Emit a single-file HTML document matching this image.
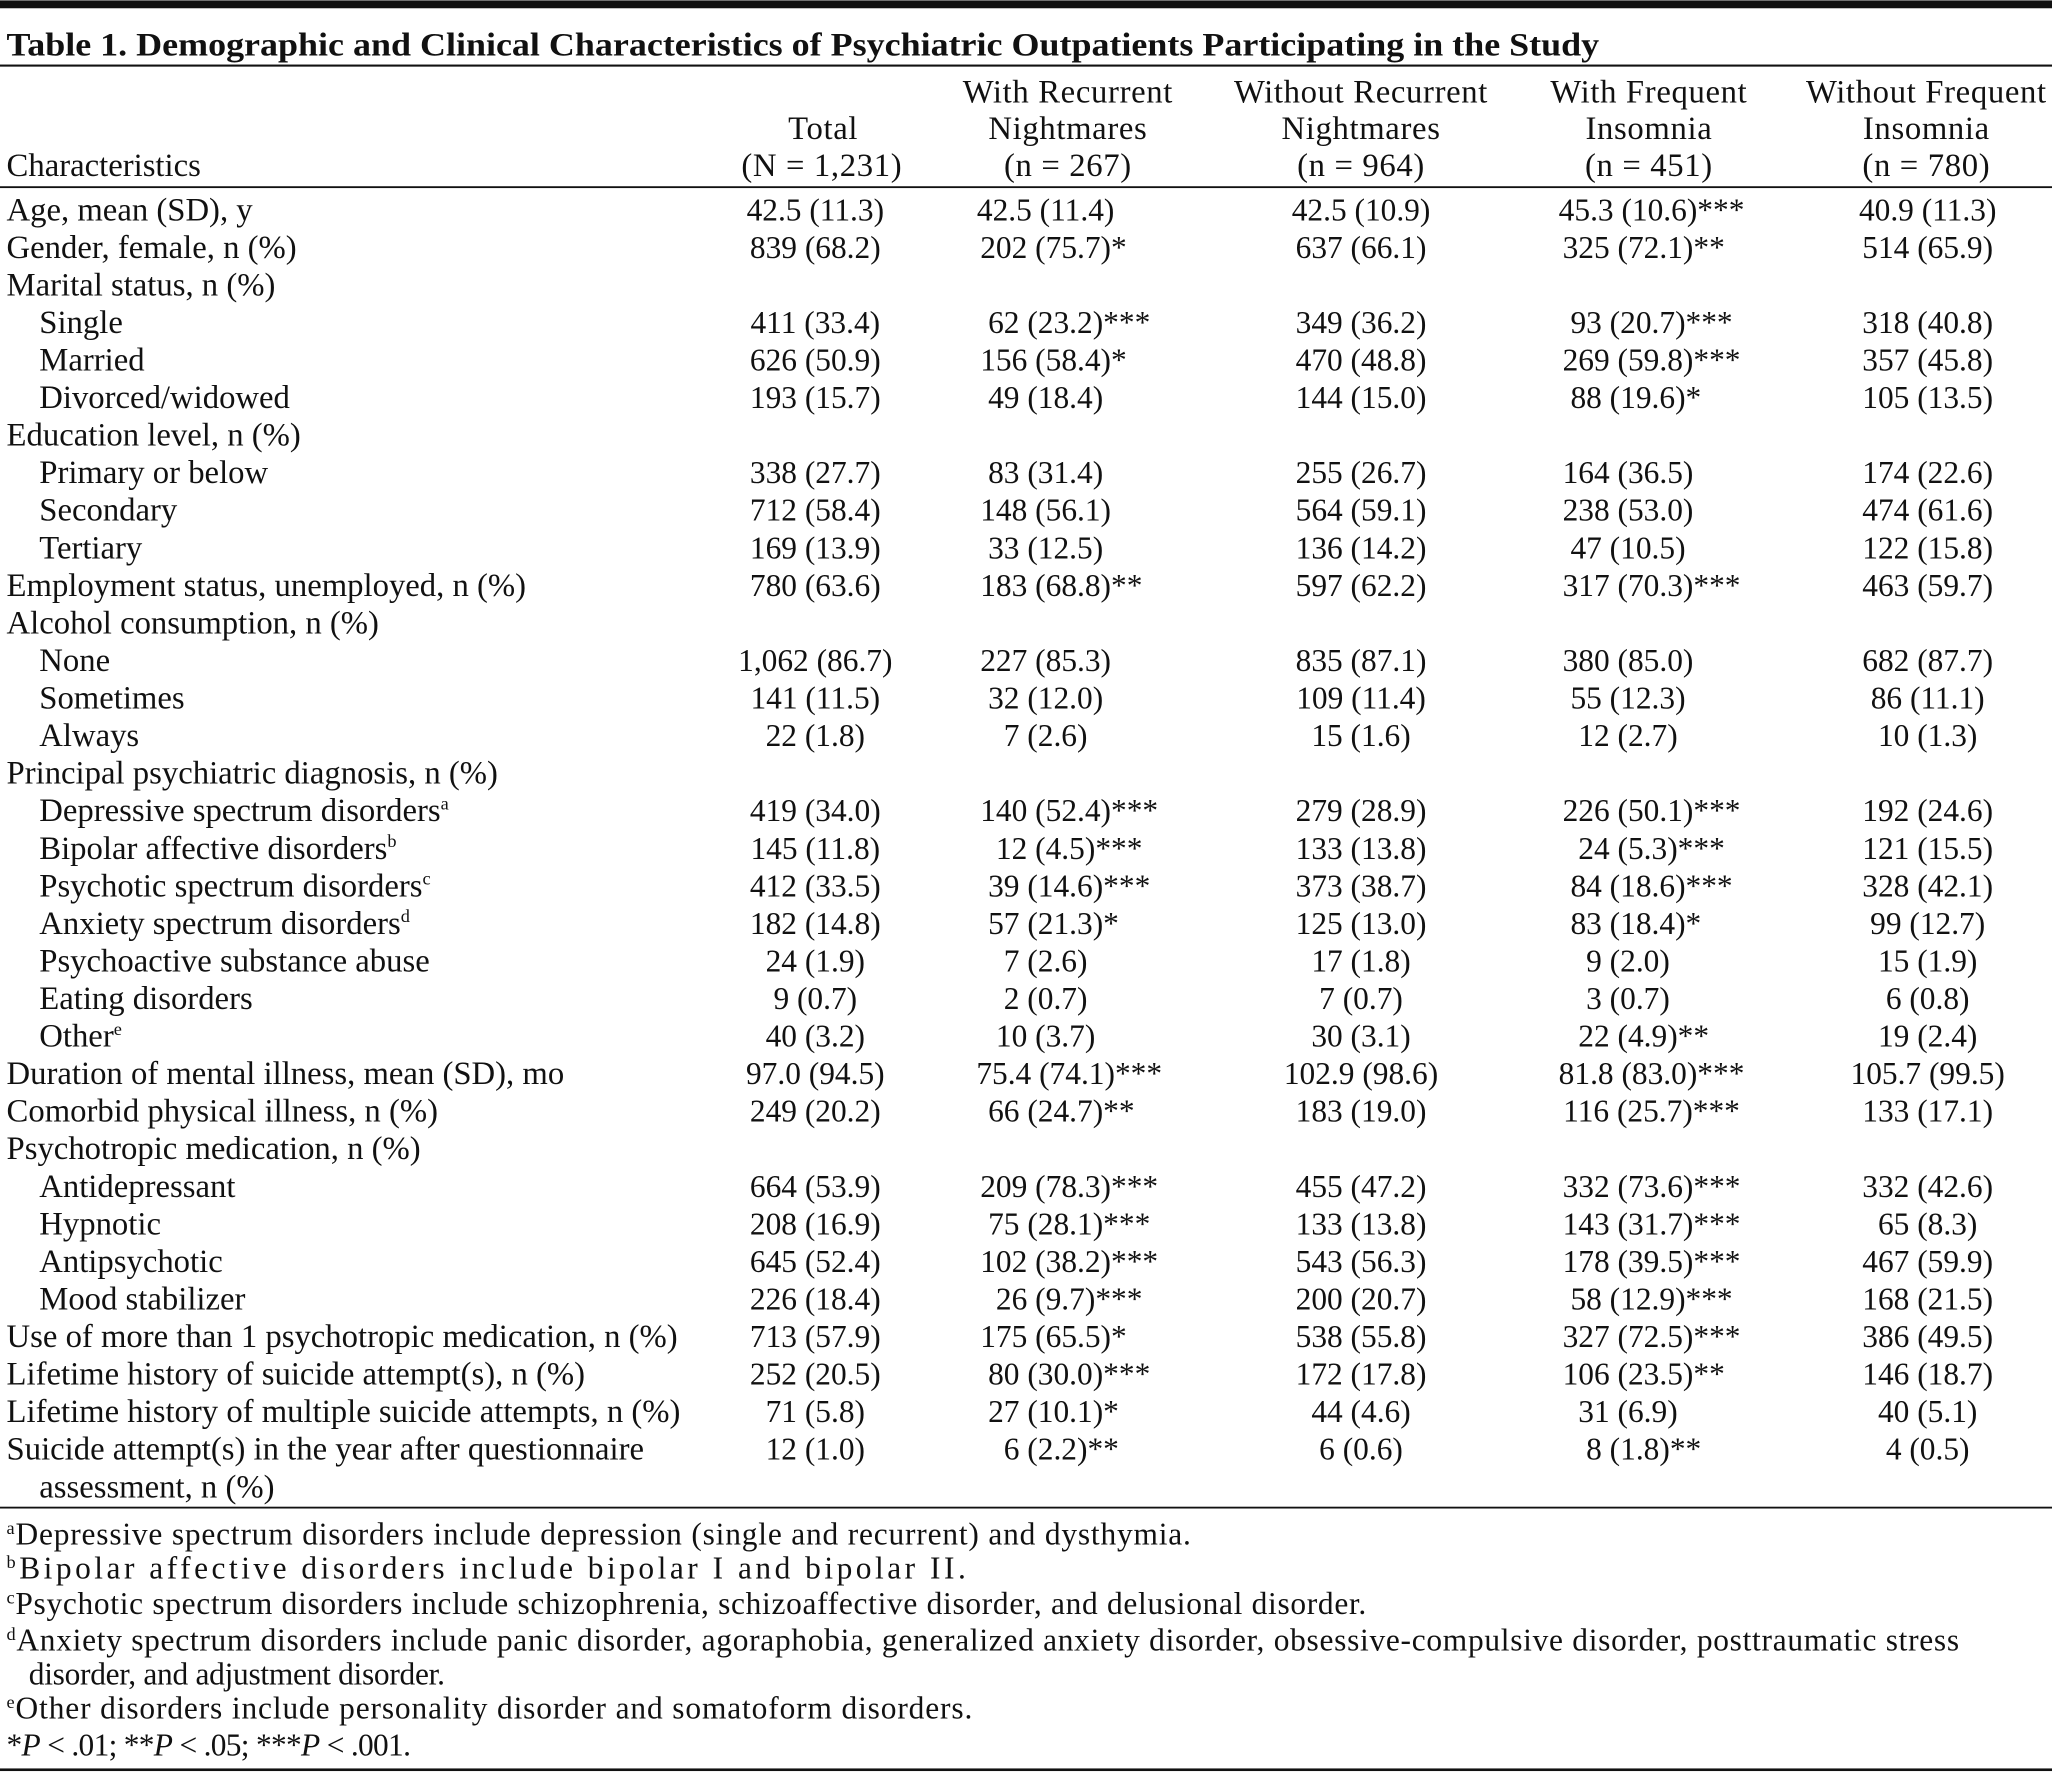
<!DOCTYPE html>
<html><head><meta charset="utf-8"><style>
html,body{margin:0;padding:0;background:#fff;}
svg{display:block;}
text{font-family:"Liberation Serif",serif;font-size:24px;fill:#111;}
.h{text-anchor:middle;font-size:25px;letter-spacing:0.5px;}
.l{font-size:25px;letter-spacing:0px;}
.v{text-anchor:middle;}
.t{font-weight:bold;font-size:25px;}
.f{font-size:24px;}
</style></head><body>
<svg width="2052" height="1778" viewBox="0 0 1568 1358" xmlns="http://www.w3.org/2000/svg">
<rect x="0" y="0" width="1568" height="6" fill="#111"/>
<text x="5" y="42" class="t" textLength="1217" lengthAdjust="spacingAndGlyphs">Table 1. Demographic and Clinical Characteristics of Psychiatric Outpatients Participating in the Study</text>
<rect x="0" y="49" width="1568" height="1.6" fill="#111"/>
<g>
<text x="816" y="78" class="h">With Recurrent</text>
<text x="1040" y="78" class="h">Without Recurrent</text>
<text x="1260" y="78" class="h">With Frequent</text>
<text x="1472" y="78" class="h">Without Frequent</text>
<text x="629" y="106" class="h">Total</text>
<text x="816" y="106" class="h">Nightmares</text>
<text x="1040" y="106" class="h">Nightmares</text>
<text x="1260" y="106" class="h">Insomnia</text>
<text x="1472" y="106" class="h">Insomnia</text>
<text x="5" y="134" class="l">Characteristics</text>
<text x="628" y="134" class="h">(N = 1,231)</text>
<text x="816" y="134" class="h">(n = 267)</text>
<text x="1040" y="134" class="h">(n = 964)</text>
<text x="1260" y="134" class="h">(n = 451)</text>
<text x="1472" y="134" class="h">(n = 780)</text>
</g>
<rect x="0" y="142" width="1568" height="1.4" fill="#111"/>
<g id="rows"></g>
<rect x="0" y="1151" width="1568" height="1.4" fill="#111"/>
<g>
<text x="5" y="1180" class="f" textLength="905" lengthAdjust="spacing"><tspan font-size="14" dy="-8">a</tspan><tspan dy="8">Depressive spectrum disorders include depression (single and recurrent) and dysthymia.</tspan></text>
<text x="5" y="1206" class="f" textLength="733" lengthAdjust="spacing"><tspan font-size="14" dy="-8">b</tspan><tspan dy="8">Bipolar affective disorders include bipolar I and bipolar II.</tspan></text>
<text x="5" y="1233" class="f" textLength="1039" lengthAdjust="spacing"><tspan font-size="14" dy="-8">c</tspan><tspan dy="8">Psychotic spectrum disorders include schizophrenia, schizoaffective disorder, and delusional disorder.</tspan></text>
<text x="5" y="1261" class="f" textLength="1492" lengthAdjust="spacing"><tspan font-size="14" dy="-8">d</tspan><tspan dy="8">Anxiety spectrum disorders include panic disorder, agoraphobia, generalized anxiety disorder, obsessive-compulsive disorder, posttraumatic stress</tspan></text>
<text x="22" y="1287" class="f" textLength="318" lengthAdjust="spacing">disorder, and adjustment disorder.</text>
<text x="5" y="1313" class="f" textLength="738" lengthAdjust="spacing"><tspan font-size="14" dy="-8">e</tspan><tspan dy="8">Other disorders include personality disorder and somatoform disorders.</tspan></text>
<text x="5" y="1341" class="f" textLength="309" lengthAdjust="spacing">*<tspan font-style="italic">P</tspan> &lt; .01; **<tspan font-style="italic">P</tspan> &lt; .05; ***<tspan font-style="italic">P</tspan> &lt; .001.</text>
</g>
<rect x="0" y="1351" width="1568" height="2" fill="#111"/>
</svg>
<script>
var rows=[
[0,"Age, mean (SD), y","42.5 (11.3)","42.5 (11.4)","42.5 (10.9)","45.3 (10.6)***","40.9 (11.3)"],
[0,"Gender, female, n (%)","839 (68.2)","202 (75.7)*","637 (66.1)","325 (72.1)**","514 (65.9)"],
[0,"Marital status, n (%)"],
[1,"Single","411 (33.4)","62 (23.2)***","349 (36.2)","93 (20.7)***","318 (40.8)"],
[1,"Married","626 (50.9)","156 (58.4)*","470 (48.8)","269 (59.8)***","357 (45.8)"],
[1,"Divorced/widowed","193 (15.7)","49 (18.4)","144 (15.0)","88 (19.6)*","105 (13.5)"],
[0,"Education level, n (%)"],
[1,"Primary or below","338 (27.7)","83 (31.4)","255 (26.7)","164 (36.5)","174 (22.6)"],
[1,"Secondary","712 (58.4)","148 (56.1)","564 (59.1)","238 (53.0)","474 (61.6)"],
[1,"Tertiary","169 (13.9)","33 (12.5)","136 (14.2)","47 (10.5)","122 (15.8)"],
[0,"Employment status, unemployed, n (%)","780 (63.6)","183 (68.8)**","597 (62.2)","317 (70.3)***","463 (59.7)"],
[0,"Alcohol consumption, n (%)"],
[1,"None","1,062 (86.7)","227 (85.3)","835 (87.1)","380 (85.0)","682 (87.7)"],
[1,"Sometimes","141 (11.5)","32 (12.0)","109 (11.4)","55 (12.3)","86 (11.1)"],
[1,"Always","22 (1.8)","7 (2.6)","15 (1.6)","12 (2.7)","10 (1.3)"],
[0,"Principal psychiatric diagnosis, n (%)"],
[1,"Depressive spectrum disorders^a","419 (34.0)","140 (52.4)***","279 (28.9)","226 (50.1)***","192 (24.6)"],
[1,"Bipolar affective disorders^b","145 (11.8)","12 (4.5)***","133 (13.8)","24 (5.3)***","121 (15.5)"],
[1,"Psychotic spectrum disorders^c","412 (33.5)","39 (14.6)***","373 (38.7)","84 (18.6)***","328 (42.1)"],
[1,"Anxiety spectrum disorders^d","182 (14.8)","57 (21.3)*","125 (13.0)","83 (18.4)*","99 (12.7)"],
[1,"Psychoactive substance abuse","24 (1.9)","7 (2.6)","17 (1.8)","9 (2.0)","15 (1.9)"],
[1,"Eating disorders","9 (0.7)","2 (0.7)","7 (0.7)","3 (0.7)","6 (0.8)"],
[1,"Other^e","40 (3.2)","10 (3.7)","30 (3.1)","22 (4.9)**","19 (2.4)"],
[0,"Duration of mental illness, mean (SD), mo","97.0 (94.5)","75.4 (74.1)***","102.9 (98.6)","81.8 (83.0)***","105.7 (99.5)"],
[0,"Comorbid physical illness, n (%)","249 (20.2)","66 (24.7)**","183 (19.0)","116 (25.7)***","133 (17.1)"],
[0,"Psychotropic medication, n (%)"],
[1,"Antidepressant","664 (53.9)","209 (78.3)***","455 (47.2)","332 (73.6)***","332 (42.6)"],
[1,"Hypnotic","208 (16.9)","75 (28.1)***","133 (13.8)","143 (31.7)***","65 (8.3)"],
[1,"Antipsychotic","645 (52.4)","102 (38.2)***","543 (56.3)","178 (39.5)***","467 (59.9)"],
[1,"Mood stabilizer","226 (18.4)","26 (9.7)***","200 (20.7)","58 (12.9)***","168 (21.5)"],
[0,"Use of more than 1 psychotropic medication, n (%)","713 (57.9)","175 (65.5)*","538 (55.8)","327 (72.5)***","386 (49.5)"],
[0,"Lifetime history of suicide attempt(s), n (%)","252 (20.5)","80 (30.0)***","172 (17.8)","106 (23.5)**","146 (18.7)"],
[0,"Lifetime history of multiple suicide attempts, n (%)","71 (5.8)","27 (10.1)*","44 (4.6)","31 (6.9)","40 (5.1)"],
[0,"Suicide attempt(s) in the year after questionnaire","12 (1.0)","6 (2.2)**","6 (0.6)","8 (1.8)**","4 (0.5)"],
[2,"assessment, n (%)"]
];
var cx=[623,799,1040,1244,1473];
var g=document.getElementById("rows"),s="";
function esc(t){return t.replace(/&/g,"&amp;").replace(/</g,"&lt;");}
rows.forEach(function(r,i){
 var y=160+28.7*i+8;
 var x=r[0]==0?5:30;
 var lab=r[1],sup="";
 var k=lab.indexOf("^");if(k>=0){sup=lab.slice(k+1);lab=lab.slice(0,k);}
 s+='<text class="l" x="'+x+'" y="'+y+'">'+esc(lab)+(sup?'<tspan font-size="14" dy="-9">'+sup+'</tspan>':'')+'</text>';
 for(var c=0;c<5;c++){var v=r[c+2];if(!v)continue;
  var m=v.match(/^(.*?)(\**)$/);
  s+='<text x="'+cx[c]+'" y="'+y+'" class="v">'+esc(m[1])+'</text>';
  if(m[2]){s+='<text data-c="'+c+'" y="'+y+'">'+m[2]+'</text>';}
 }
});
g.innerHTML=s;
g.querySelectorAll("text.v").forEach(function(t){
 var n=t.nextSibling;
 if(n&&n.getAttribute&&n.getAttribute("data-c")!==null){
  var b=t.getBBox();n.setAttribute("x",b.x+b.width);
 }
});
</script>
</body></html>
